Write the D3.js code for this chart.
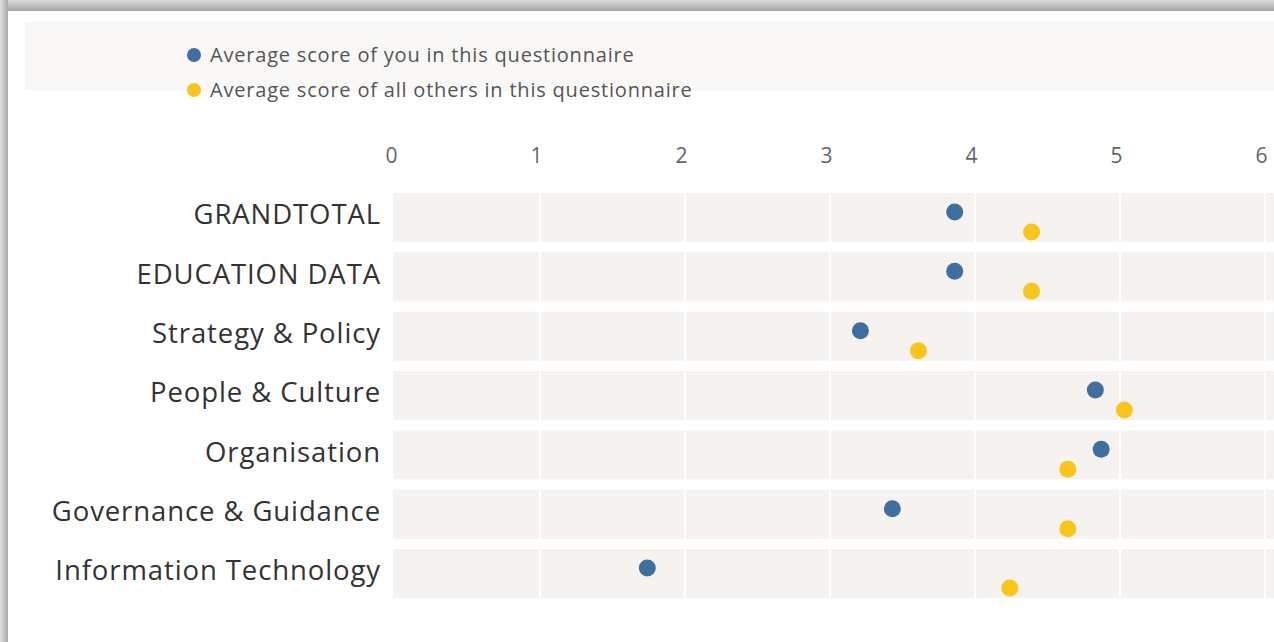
<!DOCTYPE html>
<html>
<head>
<meta charset="utf-8">
<script src="https://cdn.jsdelivr.net/npm/d3@7"></script>
<style>
  body { margin: 0; background: #fff; }
  svg { display: block; font-family: "Open Sans", Lato, sans-serif; }
</style>
</head>
<body>
<div id="chart"></div>
<script>
// data
const categories = ["GRANDTOTAL", "EDUCATION DATA", "Strategy & Policy", "People & Culture",
                    "Organisation", "Governance & Guidance", "Information Technology"]
const youScores = [3.86, 3.86, 3.21, 4.83, 4.87, 3.43, 1.74]
const othersScores = [4.39, 4.39, 3.61, 5.03, 4.64, 4.64, 4.24]
const seriesNames = ["Average score of you in this questionnaire",
                     "Average score of all others in this questionnaire"]
const seriesColors = ["#3e6f9f", "#f8c51c"]
const tickValues = [0, 1, 2, 3, 4, 5, 6]

const w = 1274, h = 642

const svg = d3.select("#chart").append("svg")
  .attr("width", w)
  .attr("height", h)

// card shadow (top and left edges of the screenshot)
const defs = svg.append("defs")
const gTop = defs.append("linearGradient").attr("id", "shTop")
  .attr("x1", 0).attr("y1", 0).attr("x2", 0).attr("y2", 1)
gTop.append("stop").attr("offset", "0%").attr("stop-color", "#dcdcdc")
gTop.append("stop").attr("offset", "100%").attr("stop-color", "#a4a4a4")
const gLeft = defs.append("linearGradient").attr("id", "shLeft")
  .attr("x1", 0).attr("y1", 0).attr("x2", 1).attr("y2", 0)
gLeft.append("stop").attr("offset", "0%").attr("stop-color", "#e2e2e2")
gLeft.append("stop").attr("offset", "100%").attr("stop-color", "#a8a8a8")

svg.append("rect").attr("x", 0).attr("y", 0).attr("width", w).attr("height", 11)
   .attr("fill", "url(#shTop)")
svg.append("rect").attr("x", 0).attr("y", 0).attr("width", 8).attr("height", h)
   .attr("fill", "url(#shLeft)")

// legend strip
svg.append("rect")
   .attr("x", 25).attr("y", 21)
   .attr("width", w - 25).attr("height", 70)
   .attr("fill", "#f9f8f6")

const legend = svg.selectAll(".legend")
  .data(seriesNames)
  .enter()
  .append("g")
  .attr("class", "legend")
  .attr("transform", (d, i) => "translate(194," + (55 + i * 35) + ")")
legend.append("circle")
  .attr("r", 7)
  .attr("fill", (d, i) => seriesColors[i])
legend.append("text")
  .attr("x", 16)
  .attr("dy", "0.36em")
  .attr("font-size", 20)
  .attr("letter-spacing", 0.8)
  .attr("fill", "#555")
  .text(d => d)

// scales
const x = d3.scaleLinear()
  .domain([0, 6])
  .range([395, 1265])

const y = d3.scaleBand()
  .domain(categories)
  .range([193, 598])
  .paddingInner(0.174)
  .paddingOuter(0)

const ySub = d3.scalePoint()
  .domain(seriesNames)
  .range([19, 39])

// row bands
svg.selectAll(".band")
  .data(categories)
  .enter()
  .append("rect")
  .attr("class", "band")
  .attr("x", x(0) - 2)
  .attr("y", d => y(d))
  .attr("width", w - x(0) + 2)
  .attr("height", y.bandwidth())
  .attr("fill", "#f5f2ef")

// white vertical gridlines
svg.selectAll(".grid")
  .data(tickValues.slice(1))
  .enter()
  .append("line")
  .attr("class", "grid")
  .attr("x1", d => x(d)).attr("x2", d => x(d))
  .attr("y1", 190).attr("y2", 602)
  .attr("stroke", "#fff")
  .attr("stroke-width", 2)

// top axis
const xAxis = d3.axisTop(x)
  .tickValues(tickValues)
  .tickSize(0)
  .tickPadding(0)
  .tickFormat(d3.format("d"))

const gx = svg.append("g")
  .attr("transform", "translate(-4,163)")
  .call(xAxis)
gx.select(".domain").remove()
gx.selectAll("text")
  .attr("font-size", 21)
  .attr("font-family", "'Open Sans', sans-serif")
  .attr("fill", "#666")

// category labels
const yAxis = d3.axisLeft(y)
  .tickSize(0)
  .tickPadding(0)

const gy = svg.append("g")
  .attr("transform", "translate(381,0)")
  .call(yAxis)
gy.select(".domain").remove()
gy.selectAll("text")
  .attr("dy", "0.25em")
  .attr("font-size", 27.5)
  .attr("letter-spacing", 0.9)
  .attr("font-family", "'Open Sans', sans-serif")
  .attr("fill", "#333")

// dots
const points = []
categories.forEach(function(c, i) {
  points.push([c, seriesNames[0], youScores[i], seriesColors[0]])
  points.push([c, seriesNames[1], othersScores[i], seriesColors[1]])
})

svg.selectAll(".dot")
  .data(points)
  .enter()
  .append("circle")
  .attr("class", "dot")
  .attr("cx", d => x(d[2]))
  .attr("cy", d => y(d[0]) + ySub(d[1]))
  .attr("r", 8.5)
  .attr("fill", d => d[3])
</script>
</body>
</html>
